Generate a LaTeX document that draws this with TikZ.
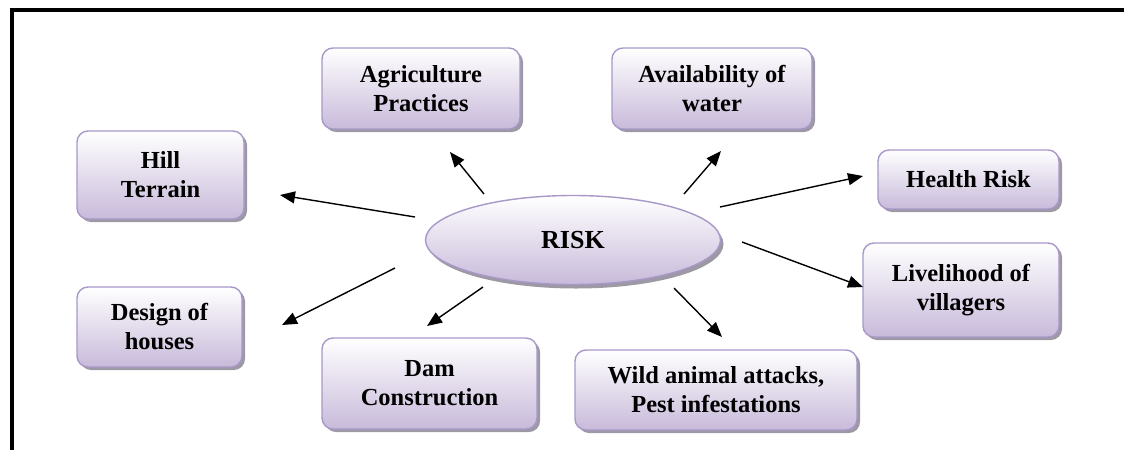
\documentclass[tikz,border=0pt]{standalone}
\usepackage{fontspec}
\setmainfont{Liberation Serif}
\usetikzlibrary{shapes.geometric,shadows,calc,arrows.meta}
\definecolor{boxline}{HTML}{A898C8}
\definecolor{boxbot}{HTML}{C8BADA}
\definecolor{shadowgray}{HTML}{9C98A4}
\tikzset{
  riskbox/.style={draw=boxline, line width=1.4pt, rounded corners=11pt,
    top color=white, bottom color=boxbot, align=center, inner sep=0pt,
    font=\fontsize{24.5}{29}\selectfont\bfseries,
    drop shadow={shadow xshift=3pt, shadow yshift=-3pt, fill=shadowgray, opacity=1}},
  riskell/.style={ellipse, draw=boxline, line width=1.4pt,
    top color=white, bottom color=boxbot, inner sep=0pt,
    font=\fontsize{26}{30}\selectfont\bfseries,
    drop shadow={shadow xshift=3pt, shadow yshift=-4pt, fill=shadowgray, opacity=1}},
  riskarrow/.style={line width=1.4pt, -{Triangle[length=15pt,width=12pt]}},
  frameline/.style={line width=4pt}
}
\begin{document}
\begin{tikzpicture}[x=1pt,y=-1pt]
\useasboundingbox (0,0) rectangle (1124,450);
\coordinate (fa) at (12,450);
\coordinate (fb) at (12,10);
\coordinate (fc) at (1124,10);
\draw[frameline] (fa) -- (fb) -- (fc);

\node[riskell, minimum width=295pt, minimum height=89pt] (risk) at (573,240) {RISK};

\node[riskbox, minimum width=167pt, minimum height=88pt] (hill) at (160.5,175) {Hill\\Terrain};
\node[riskbox, minimum width=198pt, minimum height=81pt] (agri) at (421,88.5) {Agriculture\\Practices};
\node[riskbox, minimum width=200pt, minimum height=81pt] (avail) at (712,88.5) {Availability of\\water};
\node[riskbox, minimum width=181pt, minimum height=59pt] (health) at (968.5,179.5) {Health Risk};
\node[riskbox, minimum width=196pt, minimum height=94pt] (liv) at (961,290) {Livelihood of\\villagers};
\node[riskbox, minimum width=165pt, minimum height=80pt] (design) at (159.5,327) {Design of\\houses};
\node[riskbox, minimum width=215pt, minimum height=91pt] (dam) at (429.5,383.5) {Dam\\Construction};
\node[riskbox, minimum width=282pt, minimum height=80pt] (wild) at (716,390) {Wild animal attacks,\\Pest infestations};

\draw[riskarrow] ($(risk)+(-158,-23)$) -- ($(hill)+(119.5,20)$);
\draw[riskarrow] ($(risk)+(-89,-46)$) -- ($(agri)+(29,63.5)$);
\draw[riskarrow] ($(risk)+(111,-46)$) -- ($(avail)+(9,62.5)$);
\draw[riskarrow] ($(risk)+(147,-33)$) -- ($(health)+(-105.5,-3.5)$);
\draw[riskarrow] ($(risk)+(169,2)$) -- ($(liv)+(-98,-3)$);
\draw[riskarrow] ($(risk)+(101,48)$) -- ($(wild)+(6,-53)$);
\draw[riskarrow] ($(risk)+(-90,47)$) -- ($(dam)+(-2.5,-57.5)$);
\draw[riskarrow] ($(risk)+(-178,28)$) -- ($(design)+(122.5,-2)$);
\end{tikzpicture}
\end{document}
